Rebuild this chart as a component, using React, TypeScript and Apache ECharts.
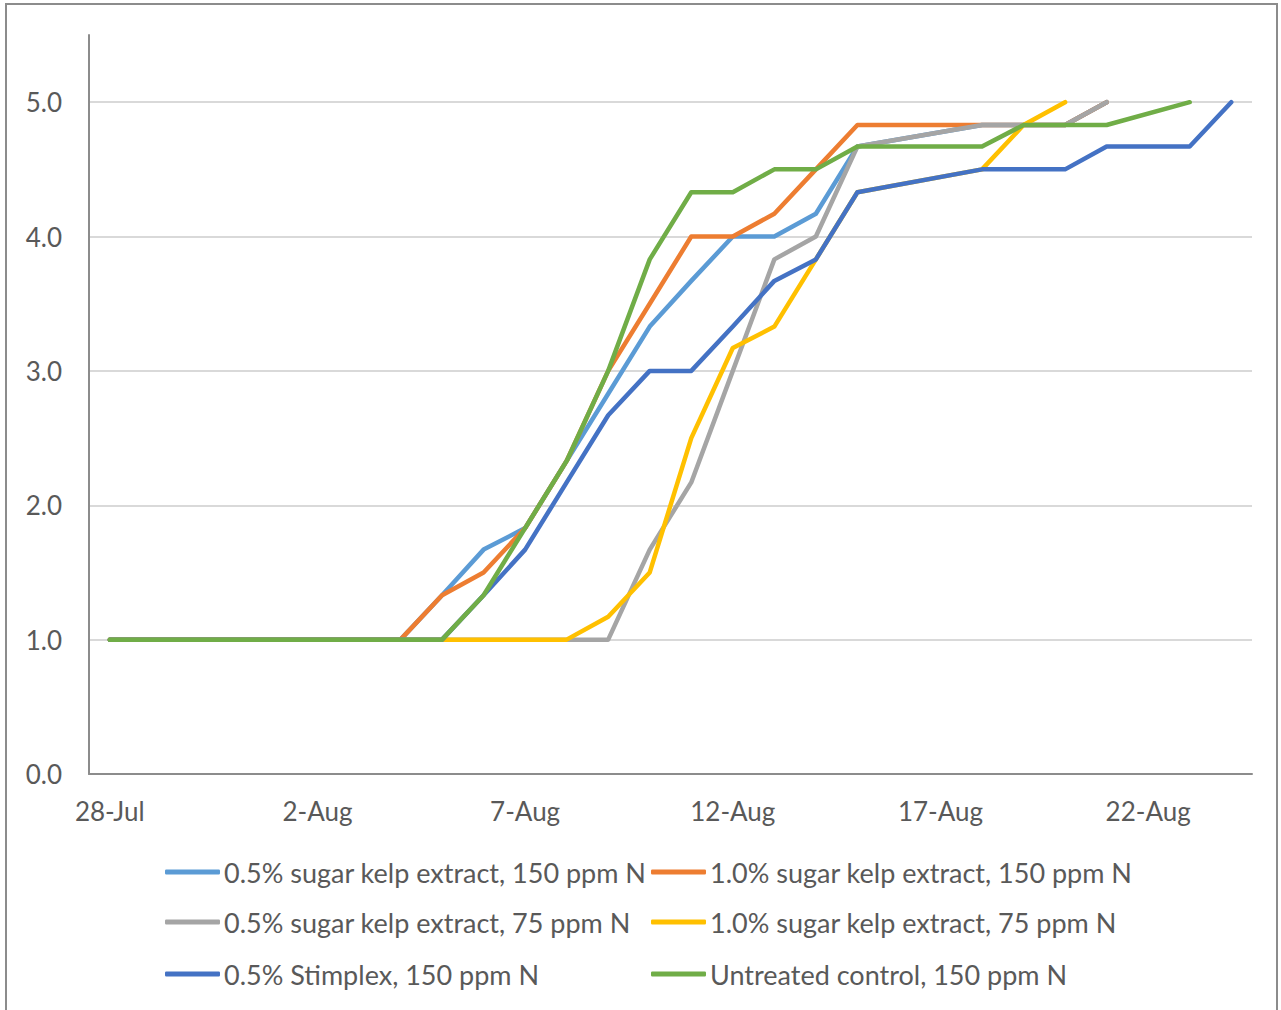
import React, { useEffect, useRef } from 'react';
import * as echarts from 'echarts';

// Daily observation dates (28-Jul to 24-Aug)
const dates = [
  '28-Jul', '29-Jul', '30-Jul', '31-Jul', '1-Aug', '2-Aug', '3-Aug', '4-Aug',
  '5-Aug', '6-Aug', '7-Aug', '8-Aug', '9-Aug', '10-Aug', '11-Aug', '12-Aug',
  '13-Aug', '14-Aug', '15-Aug', '16-Aug', '17-Aug', '18-Aug', '19-Aug', '20-Aug',
  '21-Aug', '22-Aug', '23-Aug', '24-Aug',
];

const seriesNames = [
  '0.5% sugar kelp extract, 150 ppm N',
  '1.0% sugar kelp extract, 150 ppm N',
  '0.5% sugar kelp extract, 75 ppm N',
  '1.0% sugar kelp extract, 75 ppm N',
  '0.5% Stimplex, 150 ppm N',
  'Untreated control, 150 ppm N',
];

const kelp05N150 = [
  1, 1, 1, 1, 1, 1, 1, 1,
  1.33, 1.67, 1.83, 2.33, 2.83, 3.33, 3.67, 4.0,
  4.0, 4.17, 4.67, null, null, 4.83, 4.83, 4.83,
  5.0, null, null, null,
];
const kelp10N150 = [
  1, 1, 1, 1, 1, 1, 1, 1,
  1.33, 1.5, 1.83, 2.33, 3.0, 3.5, 4.0, 4.0,
  4.17, 4.5, 4.83, 4.83, 4.83, 4.83, 4.83, 4.83,
  5.0, null, null, null,
];
const kelp05N75 = [
  1, 1, 1, 1, 1, 1, 1, 1,
  1, 1, 1, 1, 1, 1.67, 2.17, 3.0,
  3.83, 4.0, 4.67, null, null, 4.83, 4.83, 4.83,
  5.0, null, null, null,
];
const kelp10N75 = [
  1, 1, 1, 1, 1, 1, 1, 1,
  1, 1, 1, 1, 1.17, 1.5, 2.5, 3.17,
  3.33, 3.83, 4.33, null, null, 4.5, 4.83, 5.0,
  null, null, null, null,
];
const stimplexN150 = [
  1, 1, 1, 1, 1, 1, 1, 1,
  1, 1.33, 1.67, 2.17, 2.67, 3.0, 3.0, 3.33,
  3.67, 3.83, 4.33, null, null, 4.5, 4.5, 4.5,
  4.67, 4.67, 4.67, 5.0,
];
const controlN150 = [
  1, 1, 1, 1, 1, 1, 1, 1,
  1, 1.33, 1.83, 2.33, 3.0, 3.83, 4.33, 4.33,
  4.5, 4.5, 4.67, 4.67, 4.67, 4.67, 4.83, 4.83,
  4.83, null, 5.0, null,
];

const seriesData = [kelp05N150, kelp10N150, kelp05N75, kelp10N75, stimplexN150, controlN150];
const colors = ['#5B9BD5', '#ED7D31', '#A5A5A5', '#FFC000', '#4472C4', '#70AD47'];

const FONT = 'Lato, "Open Sans", sans-serif';
const TEXT = '#595959';

// Legend grid: two columns, three rows
const legendCols = [165, 651];
const legendRows = [872, 922, 974];

export default function App() {
  const ref = useRef<HTMLDivElement>(null);

  useEffect(() => {
    if (!ref.current) return;
    const chart = echarts.init(ref.current, null, { renderer: 'svg' });

    const legends = seriesNames.map((name, i) => ({
      data: [name],
      left: legendCols[i % 2],
      top: legendRows[Math.floor(i / 2)] - 15,
      padding: 0,
      icon: 'roundRect',
      itemWidth: 55,
      itemHeight: 5,
      itemGap: 0,
      selectedMode: false,
      textStyle: { fontFamily: FONT, fontSize: 27, color: TEXT, lineHeight: 30, padding: [0, 0, 0, -1] },
    }));

    chart.setOption({
      animation: false,
      backgroundColor: '#ffffff',
      grid: { left: 89, top: 35, width: 1163, height: 739, containLabel: false },
      graphic: [
        {
          type: 'rect',
          shape: { x: 6, y: 4, width: 1271, height: 1030 },
          style: { fill: 'none', stroke: '#8C8C8C', lineWidth: 2 },
          silent: true,
          z: -1,
        },
      ],
      legend: legends,
      xAxis: {
        type: 'category',
        data: dates,
        boundaryGap: true,
        axisLine: { show: true, lineStyle: { color: '#8C8C8C', width: 2 } },
        axisTick: { show: false },
        axisLabel: {
          interval: 4,
          margin: 24,
          fontFamily: FONT,
          fontSize: 26,
          color: TEXT,
        },
        splitLine: { show: false },
      },
      yAxis: {
        type: 'value',
        min: 0,
        max: 5.5,
        interval: 1,
        axisLine: { show: true, lineStyle: { color: '#8C8C8C', width: 2 } },
        axisTick: { show: false },
        axisLabel: {
          margin: 27,
          fontFamily: FONT,
          fontSize: 26,
          color: TEXT,
          showMaxLabel: false,
          formatter: (v: number) => v.toFixed(1),
        },
        splitLine: { show: true, showMaxLine: false, lineStyle: { color: '#D9D9D9', width: 2 } },
      },
      series: seriesNames.map((name, i) => ({
        name,
        type: 'line',
        data: seriesData[i],
        connectNulls: true,
        showSymbol: false,
        symbol: 'none',
        color: colors[i],
        lineStyle: { color: colors[i], width: 4.5, cap: 'round', join: 'round' },
        z: 2 + i,
      })),
    });

    return () => chart.dispose();
  }, []);

  return (
    <div
      ref={ref}
      style={{ position: 'absolute', left: 0, top: 0, width: 1281, height: 1010, background: '#ffffff' }}
    />
  );
}
